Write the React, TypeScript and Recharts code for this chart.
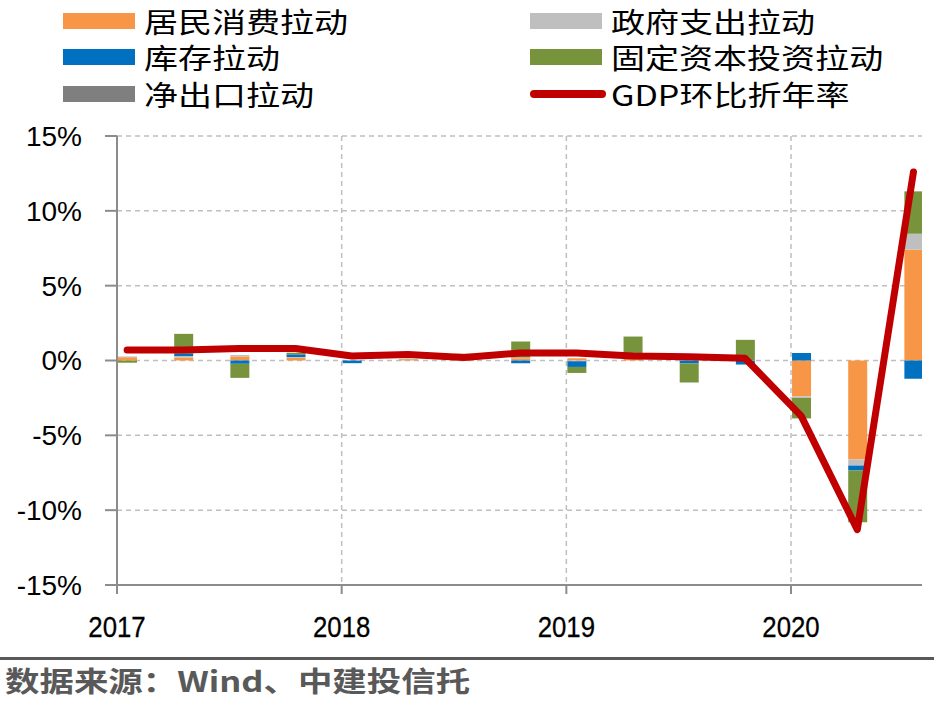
import React from "react";
import { ComposedChart, Bar, Line, XAxis, YAxis, CartesianGrid } from "recharts";

// Quarters shown in the chart
const quarters = [
  "2017Q1", "2017Q2", "2017Q3", "2017Q4",
  "2018Q1", "2018Q2", "2018Q3", "2018Q4",
  "2019Q1", "2019Q2", "2019Q3", "2019Q4",
  "2020Q1", "2020Q2", "2020Q3",
];

// Contributions (percentage points)
const consumption = [0.22, 0.2, 0.27, 0.18, 0, 0.05, 0.1, 0.15, 0.15, 0.1, 0.1, 0.03, -2.4, -6.62, 7.4];
const government = [0.05, 0.1, 0.1, 0.05, 0, 0, 0, 0.05, -0.05, 0.05, 0, 0, -0.1, -0.4, 1.07];
const inventory = [0, 0.18, -0.22, 0.18, -0.18, 0, 0, -0.18, -0.38, 0, -0.2, -0.27, 0.5, -0.33, -1.22];
const investment = [-0.15, 1.3, -0.94, 0.11, 0, 0.03, 0.35, 1.07, -0.4, 1.45, -1.27, 1.35, -1.37, -3.45, 2.83];
const netExports = [0, 0, 0, 0, 0, 0, 0, 0, 0, 0, 0, 0, 0, 0, 0];
// GDP q/q annualized (%)
const gdp = [0.7, 0.7, 0.8, 0.8, 0.3, 0.4, 0.2, 0.5, 0.5, 0.3, 0.25, 0.15, -3.7, -11.3, 12.6];

const yearTicks = [2017, 2018, 2019, 2020];
const yTicks = [-15, -10, -5, 0, 5, 10, 15];

const seriesNames = {
  consumption: "居民消费拉动",
  government: "政府支出拉动",
  inventory: "库存拉动",
  investment: "固定资本投资拉动",
  netExports: "净出口拉动",
  gdp: "GDP环比折年率",
};

const colors = {
  consumption: "#F79646",
  government: "#BFBFBF",
  inventory: "#0070C0",
  investment: "#77933C",
  netExports: "#7F7F7F",
  gdp: "#C00000",
};

// time position: year + quarter start + about half a month (data dated mid first month)
const toTime = (q: string) => {
  const y = parseInt(q.slice(0, 4), 10);
  const n = parseInt(q.slice(5), 10);
  return y + (n - 1) * 0.25 + 0.045;
};

const data = quarters.map((q, i) => ({
  t: toTime(q),
  consumption: consumption[i],
  government: government[i],
  inventory: inventory[i],
  investment: investment[i],
  netExports: netExports[i],
  gdp: gdp[i],
}));

const legendItems: { key: keyof typeof colors; type: "rect" | "line"; col: number; row: number }[] = [
  { key: "consumption", type: "rect", col: 0, row: 0 },
  { key: "government", type: "rect", col: 1, row: 0 },
  { key: "inventory", type: "rect", col: 0, row: 1 },
  { key: "investment", type: "rect", col: 1, row: 1 },
  { key: "netExports", type: "rect", col: 0, row: 2 },
  { key: "gdp", type: "line", col: 1, row: 2 },
];

const CJK = '"Noto Sans CJK SC", "Noto Sans", sans-serif';

function LegendBlock() {
  const colX = [63, 530];
  const rowY = [20.5, 57, 94];
  return (
    <>
      {legendItems.map((it) => {
        const x = colX[it.col];
        const cy = rowY[it.row];
        return (
          <React.Fragment key={it.key}>
            {it.type === "rect" ? (
              <div
                style={{
                  position: "absolute",
                  left: x,
                  top: cy - 8,
                  width: 72,
                  height: 16,
                  background: colors[it.key],
                }}
              />
            ) : (
              <div
                style={{
                  position: "absolute",
                  left: x,
                  top: cy - 4,
                  width: 76,
                  height: 8,
                  borderRadius: 4,
                  background: colors[it.key],
                }}
              />
            )}
            <div
              style={{
                position: "absolute",
                left: x + 81,
                top: cy - 20,
                height: 40,
                lineHeight: "40px",
                fontSize: 28,
                fontFamily: CJK,
                color: "#000",
                whiteSpace: "nowrap",
                transform: "scaleX(1.215)",
                transformOrigin: "left center",
              }}
            >
              {seriesNames[it.key]}
            </div>
          </React.Fragment>
        );
      })}
    </>
  );
}

function YearTick(props: any) {
  const { x, y, payload } = props;
  return (
    <g transform={`translate(${x},${y + 31}) scale(0.86,1)`}>
      <text
        x={0}
        y={0}
        textAnchor="middle"
        fill="#000"
        stroke="#000"
        strokeWidth={0.3}
        fontSize={30}
        fontFamily='"Liberation Sans", Arial, sans-serif'
      >
        {String(payload.value)}
      </text>
    </g>
  );
}

export default function App() {
  return (
    <div
      style={{
        position: "absolute",
        left: 0,
        top: 0,
        width: 934,
        height: 701,
        background: "#fff",
        overflow: "hidden",
      }}
    >
      <LegendBlock />
      <div style={{ position: "absolute", left: 0, top: 0 }}>
        <ComposedChart
          width={934}
          height={650}
          data={data}
          stackOffset="sign"
          margin={{ top: 136, right: 12, bottom: 15, left: 0 }}
        >
          <CartesianGrid
            stroke="#BFBFBF"
            strokeDasharray="5 4"
            strokeWidth={1.5}
            verticalValues={yearTicks}
            horizontalValues={yTicks}
          />
          <XAxis
            dataKey="t"
            type="number"
            domain={[2017, 2020.583]}
            ticks={yearTicks}
            allowDataOverflow
            height={50}
            tickSize={9}
            tickMargin={12}
            stroke="#8C8C8C"
            strokeWidth={2}
            tick={<YearTick />}
          />
          <YAxis
            type="number"
            domain={[-15, 15]}
            ticks={yTicks}
            allowDataOverflow
            width={117}
            tickSize={12}
            tickMargin={23}
            stroke="#8C8C8C"
            strokeWidth={2}
            tickFormatter={(v: number) => `${v}%`}
            tick={{ fill: "#000", fontSize: 28, fontFamily: '"Liberation Sans", Arial, sans-serif' }}
          />
          <Bar dataKey="consumption" stackId="a" fill={colors.consumption} barSize={19} isAnimationActive={false} />
          <Bar dataKey="government" stackId="a" fill={colors.government} barSize={19} isAnimationActive={false} />
          <Bar dataKey="inventory" stackId="a" fill={colors.inventory} barSize={19} isAnimationActive={false} />
          <Bar dataKey="investment" stackId="a" fill={colors.investment} barSize={19} isAnimationActive={false} />
          <Bar dataKey="netExports" stackId="a" fill={colors.netExports} barSize={19} isAnimationActive={false} />
          <Line
            dataKey="gdp"
            type="linear"
            stroke={colors.gdp}
            strokeWidth={7}
            strokeLinejoin="round"
            strokeLinecap="round"
            dot={false}
            activeDot={false}
            isAnimationActive={false}
          />
        </ComposedChart>
      </div>
      <div
        style={{
          position: "absolute",
          left: 0,
          top: 657,
          width: 934,
          height: 3,
          background: "#595959",
        }}
      />
      <div
        style={{
          position: "absolute",
          left: 5,
          top: 661,
          height: 38,
          lineHeight: "38px",
          fontSize: 28,
          fontWeight: 700,
          fontFamily: CJK,
          color: "#595959",
          whiteSpace: "nowrap",
          transform: "scaleX(1.23)",
          transformOrigin: "left center",
        }}
      >
        数据来源：Wind、中建投信托
      </div>
    </div>
  );
}
